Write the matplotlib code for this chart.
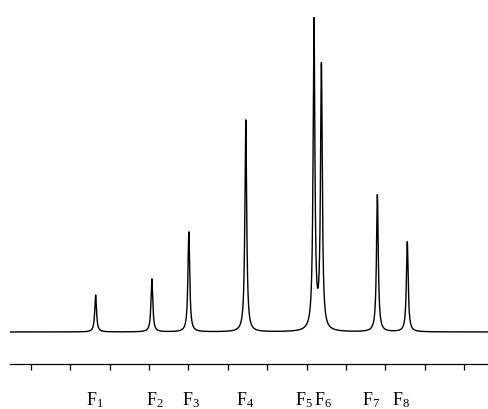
import numpy as np
import matplotlib.pyplot as plt
import matplotlib.transforms as mtransforms

### Data ###
# Peak positions (axis units, ticks at 1..12), heights and half widths
peak_pos = [2.642, 4.071, 5.010, 6.457, 8.190, 8.378, 9.800, 10.560]
peak_height = [37, 53, 100, 212, 309, 263, 137, 90]
peak_width = [0.027, 0.027, 0.027, 0.027, 0.027, 0.027, 0.027, 0.027]

# Labels under the axis
labels = ["1", "2", "3", "4", "5", "6", "7", "8"]
label_pos = [2.626, 4.15, 5.065, 6.437, 7.93, 8.41, 9.638, 10.40]

tick_pos = [1, 2, 3, 4, 5, 6, 7, 8, 9, 10, 11, 12]

### Plot ###
plt.rcParams['mathtext.fontset'] = 'custom'
plt.rcParams['mathtext.rm'] = 'Liberation Serif'
plt.rcParams['mathtext.it'] = 'Liberation Serif:italic'
plt.rcParams['font.family'] = 'Liberation Serif'

fig = plt.figure(figsize=(4.89, 4.09), dpi=100)
ax = fig.add_axes([10/489, 45/409, 479/489, 364/409])

# Build spectrum as sum of lorentzian lines
x = np.linspace(0.467, 12.636, 30000)
y = np.zeros_like(x)
for p, h, w in zip(peak_pos, peak_height, peak_width):
    y += h * w**2 / ((x - p)**2 + w**2)

ax.plot(x, y, color="black", lw=1.0)
ax.set_xlim(0.467, 12.636)
ax.set_ylim(-32, 332)

# Axis styling
for s in ["top", "left", "right"]:
    ax.spines[s].set_visible(False)
ax.spines["bottom"].set_linewidth(0.9)
ax.set_yticks([])
ax.set_xticks(tick_pos)
ax.set_xticklabels([])
ax.tick_params(axis="x", direction="out", length=4.3, width=0.9)

# Peak labels
trans = mtransforms.blended_transform_factory(ax.transData, fig.transFigure)
for lab, xp in zip(labels, label_pos):
    ax.text(xp, 4/409, r"$\mathrm{F}_{%s}$" % lab, transform=trans,
            ha="center", va="baseline", fontsize=13)

plt.savefig("out.png", dpi=100)
